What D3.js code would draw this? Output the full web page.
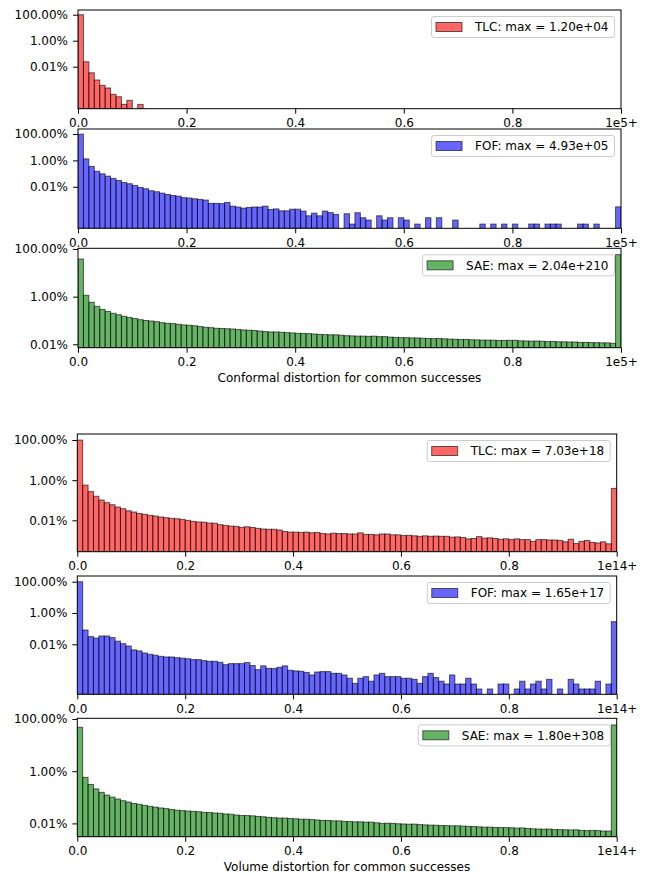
<!DOCTYPE html>
<html>
<head>
<meta charset="utf-8">
<script src="https://cdn.jsdelivr.net/npm/d3@7"></script>
<style>
  body { margin: 0; background: #fff; }
  svg { display: block; font-family: "DejaVu Sans", sans-serif; }
</style>
</head>
<body>
<svg id="chart" width="645" height="874"></svg>
<script>
// Share of samples in each of the 100 bins (last bin = overflow "1e5+" / "1e14+")
const tlcConf = [
  0.9997, 2.4e-4, 3.4e-5, 9.5e-6, 3.7e-6, 2.3e-6, 7.5e-7, 4.9e-7, 1.27e-7, 2.6e-7,
  0, 1.27e-7, 0, 0, 0, 0, 0, 0, 0, 0,
  0, 0, 0, 0, 0, 0, 0, 0, 0, 0,
  0, 0, 0, 0, 0, 0, 0, 0, 0, 0,
  0, 0, 0, 0, 0, 0, 0, 0, 0, 0,
  0, 0, 0, 0, 0, 0, 0, 0, 0, 0,
  0, 0, 0, 0, 0, 0, 0, 0, 0, 0,
  0, 0, 0, 0, 0, 0, 0, 0, 0, 0,
  0, 0, 0, 0, 0, 0, 0, 0, 0, 0,
  0, 0, 0, 0, 0, 0, 0, 0, 0, 0
];
const fofConf = [
  0.975, 1.3e-2, 3.5e-3, 1.5e-3, 9.6e-4, 6.4e-4, 4.3e-4, 3.0e-4, 2.1e-4, 1.7e-4,
  1.26e-4, 8.9e-5, 7.1e-5, 5.0e-5, 4.2e-5, 3.3e-5, 2.6e-5, 2.2e-5, 1.95e-5, 1.5e-5,
  1.4e-5, 1.23e-5, 1.1e-5, 9.8e-6, 5.5e-6, 5.5e-6, 5.3e-6, 6.5e-6, 3.4e-6, 2.9e-6,
  2.4e-6, 2.7e-6, 2.9e-6, 2.9e-6, 3.4e-6, 1.9e-6, 2.1e-6, 1.5e-6, 1.5e-6, 2.0e-6,
  2.0e-6, 1.44e-6, 6.3e-7, 1.0e-6, 6.3e-7, 1.44e-6, 1.1e-6, 7.9e-7, 0, 9e-7,
  1.48e-7, 1.07e-6, 4.5e-7, 3.0e-7, 0, 6.3e-7, 3.0e-7, 4.5e-7, 0, 4.5e-7,
  3.0e-7, 0, 1.48e-7, 0, 4.5e-7, 0, 4.5e-7, 0, 0, 3.0e-7,
  0, 0, 0, 0, 1.48e-7, 0, 1.48e-7, 0, 1.48e-7, 0,
  1.48e-7, 0, 0, 1.48e-7, 1.48e-7, 0, 1.48e-7, 1.48e-7, 1.48e-7, 0,
  0, 0, 1.48e-7, 1.48e-7, 0, 1.48e-7, 0, 0, 0, 3.0e-6
];
const saeConf = [
  0.38, 1.14e-2, 5.8e-3, 3.9e-3, 2.9e-3, 2.4e-3, 2.0e-3, 1.74e-3, 1.49e-3, 1.32e-3,
  1.2e-3, 1.08e-3, 1.0e-3, 9.5e-4, 8.9e-4, 8.1e-4, 7.6e-4, 7.4e-4, 6.9e-4, 6.5e-4,
  6.3e-4, 6.0e-4, 5.6e-4, 5.2e-4, 5.0e-4, 4.7e-4, 4.6e-4, 4.5e-4, 4.4e-4, 4.2e-4,
  4.0e-4, 3.9e-4, 3.8e-4, 3.6e-4, 3.4e-4, 3.3e-4, 3.3e-4, 3.2e-4, 3.1e-4, 3.0e-4,
  2.9e-4, 2.85e-4, 2.8e-4, 2.7e-4, 2.6e-4, 2.55e-4, 2.5e-4, 2.5e-4, 2.4e-4, 2.3e-4,
  2.25e-4, 2.2e-4, 2.2e-4, 2.15e-4, 2.2e-4, 2.1e-4, 2.1e-4, 2.0e-4, 1.95e-4, 1.9e-4,
  1.9e-4, 1.85e-4, 1.85e-4, 1.8e-4, 1.75e-4, 1.73e-4, 1.75e-4, 1.7e-4, 1.65e-4, 1.62e-4,
  1.6e-4, 1.6e-4, 1.55e-4, 1.53e-4, 1.5e-4, 1.5e-4, 1.48e-4, 1.45e-4, 1.45e-4, 1.47e-4,
  1.47e-4, 1.4e-4, 1.38e-4, 1.35e-4, 1.37e-4, 1.34e-4, 1.3e-4, 1.32e-4, 1.28e-4, 1.27e-4,
  1.25e-4, 1.25e-4, 1.2e-4, 1.2e-4, 1.18e-4, 1.17e-4, 1.15e-4, 1.15e-4, 1.1e-4, 0.58
];
const tlcVol = [
  0.99, 5.7e-3, 2.7e-3, 1.58e-3, 1.03e-3, 7.6e-4, 6.0e-4, 4.6e-4, 3.8e-4, 3.0e-4,
  2.6e-4, 2.2e-4, 2.0e-4, 1.78e-4, 1.64e-4, 1.47e-4, 1.36e-4, 1.26e-4, 1.2e-4, 1.12e-4,
  1.0e-4, 8.9e-5, 8.3e-5, 8.1e-5, 7.4e-5, 7.2e-5, 6.1e-5, 5.6e-5, 5.2e-5, 5.0e-5,
  4.5e-5, 4.8e-5, 4.4e-5, 4.0e-5, 3.7e-5, 3.6e-5, 3.6e-5, 3.3e-5, 2.8e-5, 2.6e-5,
  2.6e-5, 2.5e-5, 2.6e-5, 2.4e-5, 2.5e-5, 2.2e-5, 2.1e-5, 2.3e-5, 2.2e-5, 2.2e-5,
  2.1e-5, 2.1e-5, 2.4e-5, 2.0e-5, 2.0e-5, 1.9e-5, 2.1e-5, 2.1e-5, 1.9e-5, 1.9e-5,
  1.75e-5, 1.8e-5, 1.7e-5, 1.6e-5, 1.7e-5, 1.6e-5, 1.65e-5, 1.6e-5, 1.6e-5, 1.45e-5,
  1.5e-5, 1.4e-5, 1.2e-5, 1.25e-5, 1.55e-5, 1.3e-5, 1.35e-5, 1.25e-5, 1.15e-5, 1.2e-5,
  1.1e-5, 1.2e-5, 1.1e-5, 1.1e-5, 9.0e-6, 1.1e-5, 1.1e-5, 1.05e-5, 1.05e-5, 1.0e-5,
  8.6e-6, 1.15e-5, 7.0e-6, 9.0e-6, 1.0e-5, 8.0e-6, 7.5e-6, 8.5e-6, 6.8e-6, 3.9e-3
];
const fofVol = [
  0.995, 8.2e-4, 3.1e-4, 2.5e-4, 3.4e-4, 3.4e-4, 2.7e-4, 1.6e-4, 1.1e-4, 7.8e-5,
  4.4e-5, 3.8e-5, 2.8e-5, 2.3e-5, 2.0e-5, 1.7e-5, 1.55e-5, 1.55e-5, 1.4e-5, 1.3e-5,
  1.2e-5, 1.05e-5, 1.05e-5, 9.1e-6, 8.2e-6, 8.2e-6, 7.1e-6, 5.0e-6, 5.8e-6, 5.8e-6,
  5.8e-6, 6.8e-6, 4.4e-6, 2.4e-6, 4.2e-6, 2.9e-6, 2.8e-6, 3.4e-6, 4.2e-6, 2.2e-6,
  2.0e-6, 1.9e-6, 1.6e-6, 1.1e-6, 1.7e-6, 1.8e-6, 1.8e-6, 1.4e-6, 1.4e-6, 1.1e-6,
  6.8e-7, 3.2e-7, 6.8e-7, 8.6e-7, 4.4e-7, 1.1e-6, 1.4e-6, 8.6e-7, 8.6e-7, 8.6e-7,
  6.8e-7, 6.8e-7, 5.8e-7, 3.2e-7, 8.6e-7, 1.4e-6, 7.5e-7, 4.4e-7, 2.9e-7, 1.1e-6,
  2.9e-7, 2.9e-7, 6.8e-7, 2.9e-7, 1.4e-7, 0, 1.4e-7, 0, 2.9e-7, 2.9e-7,
  0, 1.4e-7, 4.4e-7, 1.4e-7, 2.9e-7, 4.4e-7, 1.4e-7, 5.8e-7, 0, 1.4e-7,
  0, 5.8e-7, 2.9e-7, 1.4e-7, 1.4e-7, 1.4e-7, 4.4e-7, 0, 2.9e-7, 2.8e-3
];
const saeVol = [
  0.48, 5.8e-3, 3.1e-3, 2.1e-3, 1.55e-3, 1.22e-3, 1.02e-3, 8.6e-4, 7.4e-4, 6.6e-4,
  5.8e-4, 5.4e-4, 4.9e-4, 4.5e-4, 4.2e-4, 3.9e-4, 3.7e-4, 3.4e-4, 3.2e-4, 3.1e-4,
  2.97e-4, 2.9e-4, 2.8e-4, 2.65e-4, 2.6e-4, 2.5e-4, 2.45e-4, 2.3e-4, 2.25e-4, 2.1e-4,
  2.0e-4, 2.0e-4, 1.95e-4, 1.85e-4, 1.8e-4, 1.7e-4, 1.65e-4, 1.6e-4, 1.6e-4, 1.55e-4,
  1.5e-4, 1.45e-4, 1.45e-4, 1.4e-4, 1.35e-4, 1.3e-4, 1.3e-4, 1.25e-4, 1.25e-4, 1.2e-4,
  1.18e-4, 1.15e-4, 1.15e-4, 1.12e-4, 1.12e-4, 1.06e-4, 1.0e-4, 1.02e-4, 1.0e-4, 9.7e-5,
  9.5e-5, 9.3e-5, 9.4e-5, 9.0e-5, 8.8e-5, 8.6e-5, 8.5e-5, 8.3e-5, 8.2e-5, 8.1e-5,
  8.1e-5, 7.9e-5, 7.7e-5, 7.6e-5, 7.4e-5, 7.2e-5, 7.2e-5, 7.0e-5, 6.9e-5, 6.9e-5,
  6.8e-5, 6.6e-5, 6.7e-5, 6.4e-5, 6.2e-5, 6.1e-5, 6.0e-5, 6.1e-5, 5.8e-5, 5.8e-5,
  5.7e-5, 5.6e-5, 5.7e-5, 5.4e-5, 5.3e-5, 5.4e-5, 5.3e-5, 5.1e-5, 5.1e-5, 0.59
];

const methods = ["TLC", "FOF", "SAE"];
const methodColors = ["#ff0000", "#0000ff", "#008000"];
const confMax = ["1.20e+04", "4.93e+05", "2.04e+210"];
const volMax = ["7.03e+18", "1.65e+17", "1.80e+308"];
const xTicks = [0, 0.2, 0.4, 0.6, 0.8, 1];
const yTicks = [1e-4, 1e-2, 1];
const xTitles = ["Conformal distortion for common successes", "Volume distortion for common successes"];

// panel frames (pixels) and log-y limits
const panels = [
  { data: tlcConf, m: 0, max: confMax[0], end: "1e5+", left: 78, right: 621, top: 10, bottom: 108.7, yMin: 5.9e-8, yMax: 2.3 },
  { data: fofConf, m: 1, max: confMax[1], end: "1e5+", left: 78, right: 621, top: 129, bottom: 228.3, yMin: 7.1e-8, yMax: 2.4 },
  { data: saeConf, m: 2, max: confMax[2], end: "1e5+", left: 78, right: 621, top: 248.3, bottom: 347.7, yMin: 7.2e-5, yMax: 1.07, title: xTitles[0] },
  { data: tlcVol, m: 0, max: volMax[0], end: "1e14+", left: 77.3, right: 616.7, top: 434, bottom: 551.7, yMin: 2.75e-6, yMax: 1.99 },
  { data: fofVol, m: 1, max: volMax[1], end: "1e14+", left: 77.3, right: 616.7, top: 576, bottom: 694.3, yMin: 6.4e-8, yMax: 2.31 },
  { data: saeVol, m: 2, max: volMax[2], end: "1e14+", left: 77.3, right: 616.7, top: 718.3, bottom: 836.7, yMin: 3.1e-5, yMax: 1.06, title: xTitles[1] }
];

const svg = d3.select("#chart");
const fontSize = 12;

panels.forEach((p, k) => {
  const n = p.data.length;
  const color = methodColors[p.m];

  const x = d3.scaleLinear().domain([0, 1]).range([p.left, p.right]);
  const y = d3.scaleLog().domain([p.yMin, p.yMax]).range([p.bottom, p.top]);

  const g = svg.append("g");

  // clip for bars
  g.append("clipPath")
    .attr("id", "clip" + k)
    .append("rect")
    .attr("x", p.left)
    .attr("y", p.top)
    .attr("width", p.right - p.left)
    .attr("height", p.bottom - p.top);

  const bins = p.data.map((v, i) => ({ x0: i / n, x1: (i + 1) / n, v: v }));

  g.append("g")
    .attr("clip-path", `url(#clip${k})`)
    .selectAll("rect")
    .data(bins.filter(d => d.v > 0))
    .enter()
    .append("rect")
    .attr("x", d => x(d.x0))
    .attr("width", d => x(d.x1) - x(d.x0))
    .attr("y", d => y(d.v))
    .attr("height", d => p.bottom - y(d.v))
    .attr("fill", color)
    .attr("fill-opacity", 0.6)
    .attr("stroke", "#000")
    .attr("stroke-opacity", 0.6)
    .attr("stroke-width", 1);

  // axes
  const xAxis = g.append("g")
    .attr("transform", `translate(0,${p.bottom})`)
    .call(d3.axisBottom(x)
      .tickValues(xTicks)
      .tickSize(5)
      .tickPadding(5)
      .tickFormat(d => d === 1 ? p.end : d.toFixed(1)));

  const yAxis = g.append("g")
    .attr("transform", `translate(${p.left},0)`)
    .call(d3.axisLeft(y)
      .tickValues(yTicks)
      .tickSize(5)
      .tickPadding(5)
      .tickFormat(d3.format(".2%")));

  [xAxis, yAxis].forEach(a => {
    a.select(".domain").remove();
    a.selectAll("text")
      .attr("font-family", "DejaVu Sans")
      .attr("font-size", fontSize)
      .attr("fill", "#000");
    a.selectAll("line").attr("stroke", "#000");
  });

  // frame
  g.append("rect")
    .attr("x", p.left)
    .attr("y", p.top)
    .attr("width", p.right - p.left)
    .attr("height", p.bottom - p.top)
    .attr("fill", "none")
    .attr("stroke", "#000")
    .attr("stroke-width", 1);

  // legend (upper right)
  const leg = g.append("g");
  const box = leg.append("rect");
  const label = leg.append("text")
    .attr("font-family", "DejaVu Sans")
    .attr("font-size", fontSize)
    .attr("fill", "#000")
    .text(`${methods[p.m]}: max = ${p.max}`);
  const tw = label.node().getComputedTextLength();
  const bw = 4.5 + 26 + 13 + tw + 6;
  const bh = 21;
  const bx = p.right - 6.5 - bw;
  const by = p.top + 6.5;
  box.attr("x", bx).attr("y", by)
    .attr("width", bw).attr("height", bh)
    .attr("rx", 2.5)
    .attr("fill", "#fff").attr("fill-opacity", 0.8)
    .attr("stroke", "#cccccc").attr("stroke-width", 1);
  leg.append("rect")
    .attr("x", bx + 4.5)
    .attr("y", by + bh / 2 - 4.5)
    .attr("width", 26)
    .attr("height", 9)
    .attr("fill", color).attr("fill-opacity", 0.6)
    .attr("stroke", "#000").attr("stroke-opacity", 0.6);
  label.attr("x", bx + 4.5 + 26 + 13).attr("y", by + bh / 2).attr("dy", "0.36em");

  if (p.title) {
    g.append("text")
      .attr("x", (p.left + p.right) / 2)
      .attr("y", p.bottom + 34)
      .attr("text-anchor", "middle")
      .attr("font-family", "DejaVu Sans")
      .attr("font-size", fontSize)
      .attr("fill", "#000")
      .text(p.title);
  }
});
</script>
</body>
</html>
